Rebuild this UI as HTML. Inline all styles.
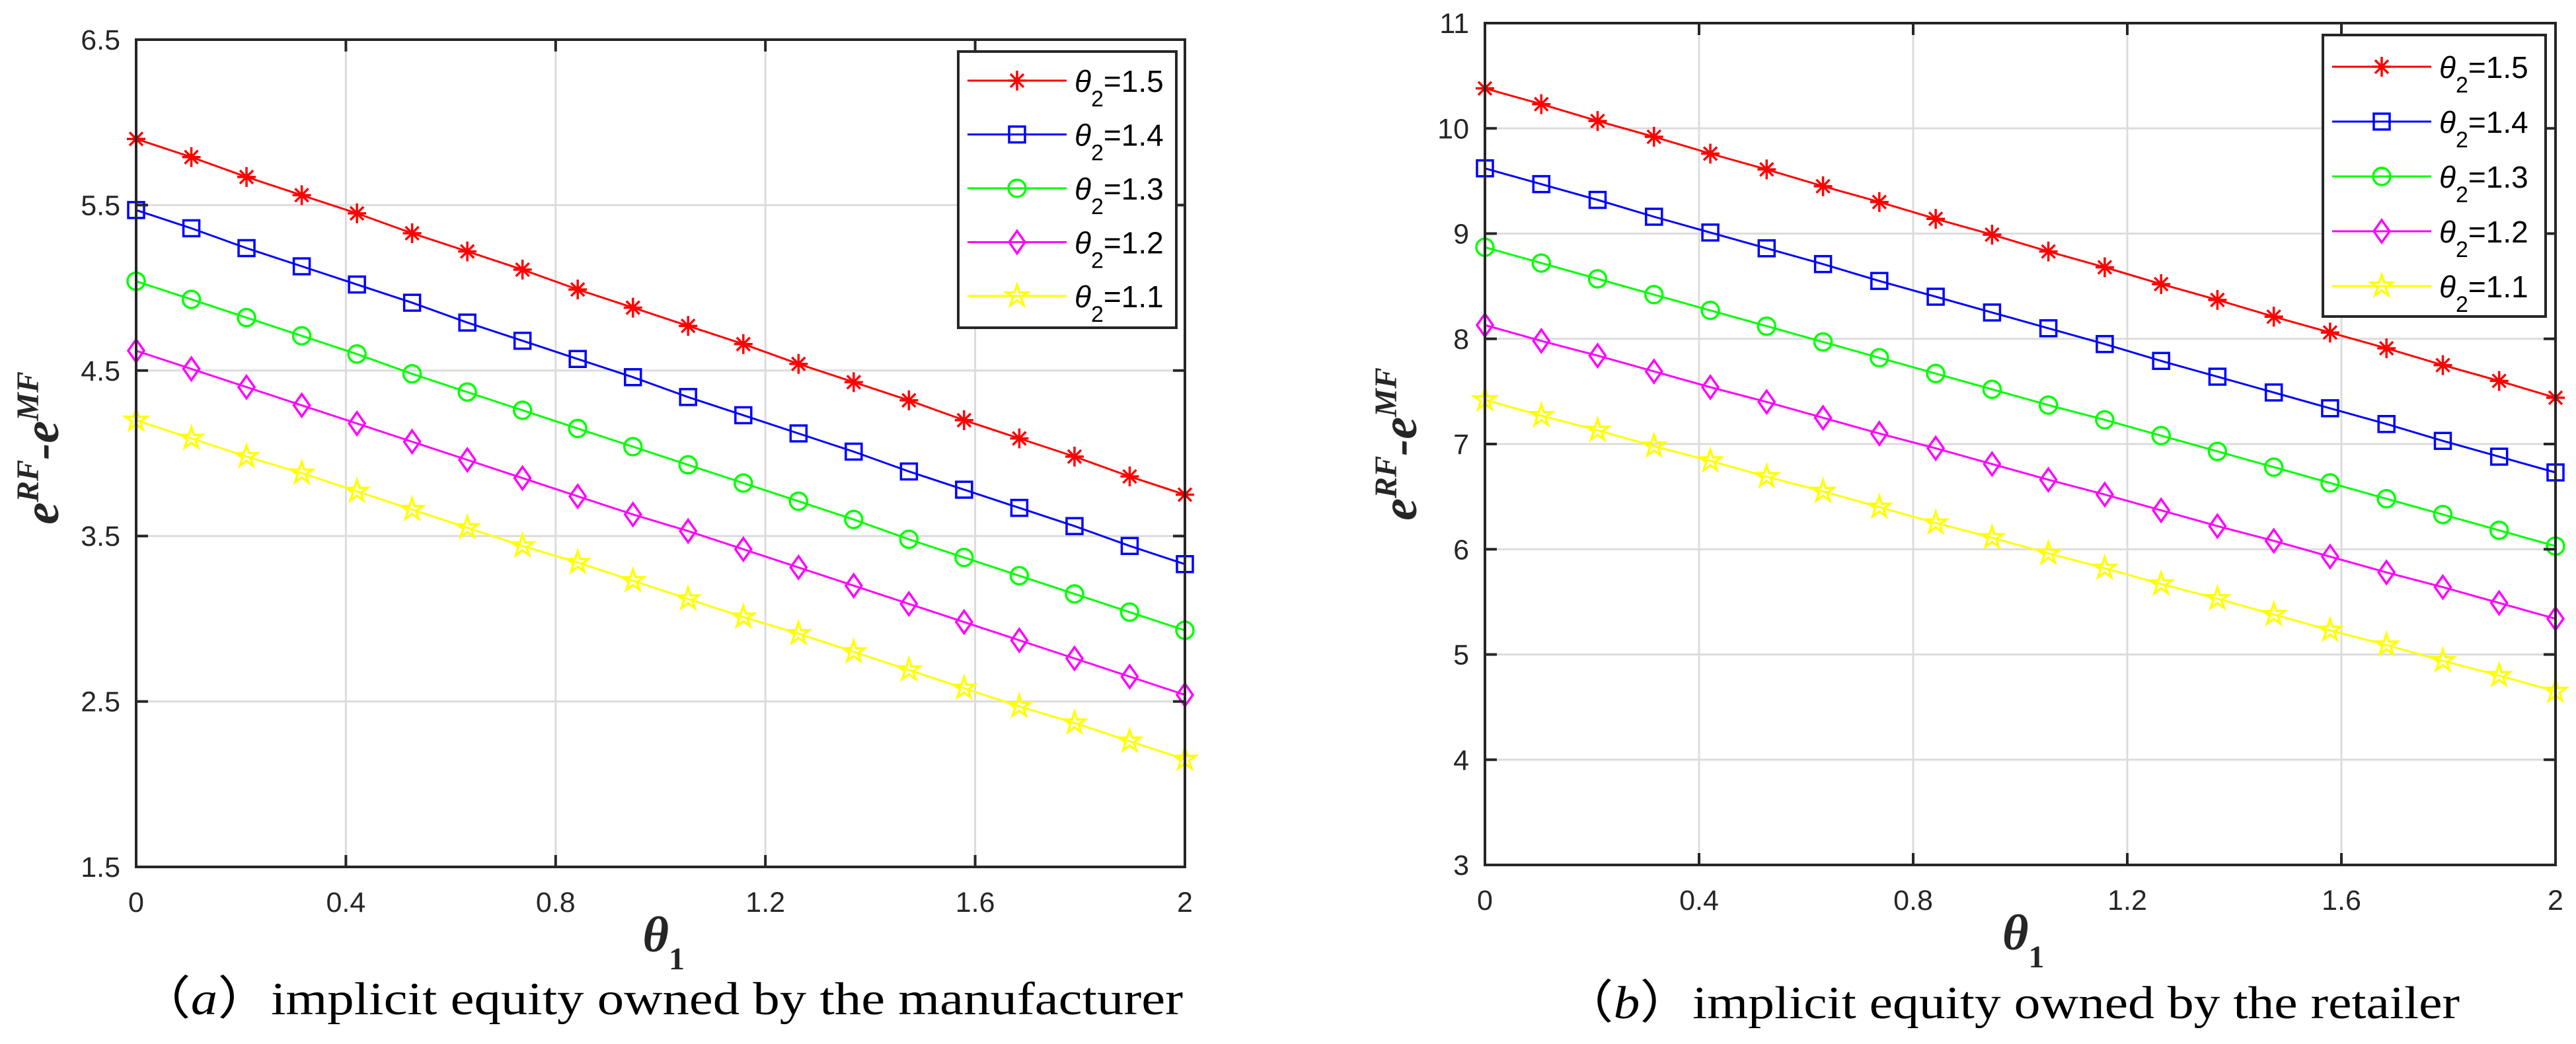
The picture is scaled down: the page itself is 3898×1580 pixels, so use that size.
<!DOCTYPE html>
<html><head><meta charset="utf-8">
<style>
html,body{margin:0;padding:0;background:#fff;}
svg{display:block;}
.tick{font-family:"Liberation Sans",sans-serif;font-size:43px;fill:#262626;}
.leg{font-family:"Liberation Sans",sans-serif;font-size:46px;fill:#000;}
.ser{font-family:"Liberation Serif",serif;}
</style></head>
<body>
<svg id="fig" width="3898" height="1580" viewBox="0 0 3898 1580" xmlns="http://www.w3.org/2000/svg">
<rect width="3898" height="1580" fill="#fff"/>
</svg>
<script>
// ---- data ----
const xValues = [0,0.1053,0.2105,0.3158,0.4211,0.5263,0.6316,0.7368,0.8421,0.9474,1.0526,1.1579,1.2632,1.3684,1.4737,1.5789,1.6842,1.7895,1.8947,2];
const seriesLabels = ["1.5","1.4","1.3","1.2","1.1"];
const seriesColors = ["#ff0000","#0000ff","#00ff00","#ff00ff","#ffff00"];
const seriesMarkers = ["star","square","circle","diamond","pentagram"];
const aRed = [5.90,5.79,5.67,5.56,5.45,5.33,5.22,5.11,4.99,4.88,4.77,4.66,4.54,4.43,4.32,4.20,4.09,3.98,3.86,3.75];
const aBlue = [5.47,5.36,5.24,5.13,5.02,4.91,4.79,4.68,4.57,4.46,4.34,4.23,4.12,4.01,3.89,3.78,3.67,3.56,3.44,3.33];
const aGreen = [5.04,4.93,4.82,4.71,4.60,4.48,4.37,4.26,4.15,4.04,3.93,3.82,3.71,3.60,3.48,3.37,3.26,3.15,3.04,2.93];
const aMagenta = [4.62,4.51,4.40,4.29,4.18,4.07,3.96,3.85,3.74,3.63,3.53,3.42,3.31,3.20,3.09,2.98,2.87,2.76,2.65,2.54];
const aYellow = [4.20,4.09,3.98,3.88,3.77,3.66,3.55,3.44,3.34,3.23,3.12,3.01,2.91,2.80,2.69,2.58,2.47,2.37,2.26,2.15];
const bRed = [10.38,10.23,10.07,9.92,9.76,9.61,9.45,9.30,9.14,8.99,8.83,8.68,8.52,8.37,8.21,8.06,7.91,7.75,7.60,7.44];
const bBlue = [9.62,9.47,9.32,9.16,9.01,8.86,8.71,8.55,8.40,8.25,8.10,7.95,7.79,7.64,7.49,7.34,7.19,7.03,6.88,6.73];
const bGreen = [8.87,8.72,8.57,8.42,8.27,8.12,7.97,7.82,7.67,7.52,7.37,7.23,7.08,6.93,6.78,6.63,6.48,6.33,6.18,6.03];
const bMagenta = [8.13,7.98,7.84,7.69,7.54,7.40,7.25,7.10,6.96,6.81,6.66,6.52,6.37,6.22,6.08,5.93,5.78,5.64,5.49,5.34];
const bYellow = [7.42,7.27,7.13,6.98,6.84,6.69,6.55,6.40,6.25,6.11,5.96,5.82,5.67,5.53,5.38,5.23,5.09,4.94,4.80,4.65];
const xTicks = [0,0.4,0.8,1.2,1.6,2];
const xTickLabels = ["0","0.4","0.8","1.2","1.6","2"];
const aYTicks = [1.5,2.5,3.5,4.5,5.5,6.5];
const aYTickLabels = ["1.5","2.5","3.5","4.5","5.5","6.5"];
const bYTicks = [3,4,5,6,7,8,9,10,11];
const bYTickLabels = ["3","4","5","6","7","8","9","10","11"];

const NS="http://www.w3.org/2000/svg";
const svg=document.getElementById('fig');
function mk(tag,attrs,parent){const e=document.createElementNS(NS,tag);for(const k in attrs)e.setAttribute(k,attrs[k]);(parent||svg).appendChild(e);return e;}

function marker(g,type,cx,cy,color){
  let e;
  if(type==="star"){
    e=mk('path',{d:`M${cx-14},${cy}H${cx+14}M${cx},${cy-15}V${cy+15}M${cx-10},${cy-10}L${cx+10},${cy+10}M${cx-10},${cy+10}L${cx+10},${cy-10}`,stroke:color,'stroke-width':3.5,fill:'none'},g);
  }else if(type==="square"){
    e=mk('rect',{x:cx-12,y:cy-12,width:24,height:24,stroke:color,'stroke-width':3.5,fill:'none'},g);
  }else if(type==="circle"){
    e=mk('circle',{cx:cx,cy:cy,r:13,stroke:color,'stroke-width':3.5,fill:'none'},g);
  }else if(type==="diamond"){
    e=mk('path',{d:`M${cx},${cy-17}L${cx+12},${cy}L${cx},${cy+17}L${cx-12},${cy}Z`,stroke:color,'stroke-width':3.5,fill:'none'},g);
  }else{
    let p=[];for(let i=0;i<10;i++){const r=i%2?6.5:17;const a=-Math.PI/2+i*Math.PI/5;p.push((cx+r*Math.cos(a)).toFixed(1)+','+(cy+r*Math.sin(a)).toFixed(1));}
    e=mk('polygon',{points:p.join(' '),stroke:color,'stroke-width':3.5,fill:'none'},g);
  }
  
  
}

function panel(id,L,R,T,B,ymin,ymax,yticks,ylabels,series,leg,cap,capX,capW,capY,yLabX,yLabC){
  const g=mk('g',{});
  
  
  const xs=v=>L+(v-0)/(2-0)*(R-L);
  const ys=v=>B-(v-ymin)/(ymax-ymin)*(B-T);
  const grid=mk('g',{stroke:'#dcdcdc','stroke-width':3},g);
  
  
  xTicks.forEach(v=>{if(v>0&&v<2)mk('line',{x1:xs(v),x2:xs(v),y1:T,y2:B},grid);});
  yticks.forEach(v=>{if(v>ymin&&v<ymax)mk('line',{x1:L,x2:R,y1:ys(v),y2:ys(v)},grid);});
  series.forEach((vals,si)=>{
    const sg=mk('g',{},g);
    
    
    const pts=vals.map((v,i)=>xs(xValues[i]).toFixed(1)+','+ys(v).toFixed(1)).join(' ');
    const pl=mk('polyline',{points:pts,fill:'none',stroke:seriesColors[si],'stroke-width':3},sg);
    
    
    vals.forEach((v,i)=>marker(sg,seriesMarkers[si],xs(xValues[i]),ys(v),seriesColors[si]));
  });
  const ax=mk('g',{stroke:'#262626','stroke-width':4,fill:'none'},g);
  
  
  mk('rect',{x:L,y:T,width:R-L,height:B-T},ax);
  xTicks.forEach(v=>{mk('line',{x1:xs(v),x2:xs(v),y1:B,y2:B-18},ax);mk('line',{x1:xs(v),x2:xs(v),y1:T,y2:T+18},ax);});
  yticks.forEach(v=>{mk('line',{x1:L,x2:L+18,y1:ys(v),y2:ys(v)},ax);mk('line',{x1:R,x2:R-18,y1:ys(v),y2:ys(v)},ax);});
  xTicks.forEach((v,i)=>{const t=mk('text',{x:xs(v),y:B+68,'text-anchor':'middle',class:'tick'},g);t.textContent=xTickLabels[i];
    });
  yticks.forEach((v,i)=>{const t=mk('text',{x:L-24,y:ys(v)+15,'text-anchor':'end',class:'tick'},g);t.textContent=ylabels[i];
    });
  const xt=mk('text',{x:xs(1)-27,y:B+128,class:'ser','font-size':76,'font-weight':'bold','font-style':'italic',fill:'#262626'},g);
  xt.innerHTML='θ<tspan dy="27" font-size="48" font-style="normal">1</tspan>';
  
  const yt=mk('text',{x:0,y:0,transform:`translate(${yLabX},${yLabC}) rotate(-90)`,'text-anchor':'middle',class:'ser','font-size':76,'font-weight':'bold','font-style':'italic',fill:'#262626'},g);
  yt.innerHTML='e<tspan dy="-30" font-size="48">RF</tspan><tspan dy="30">-e</tspan><tspan dy="-30" font-size="48">MF</tspan>';
  
  const lg=mk('g',{},g);
  
  const lr=mk('rect',{x:leg.x,y:leg.y,width:leg.w,height:leg.h,fill:'#fff',stroke:'#262626','stroke-width':4},lg);
  
  seriesLabels.forEach((lab,si)=>{
    const eg=mk('g',{},lg);
    
    const cy=leg.y0+si*leg.dy;
    mk('line',{x1:leg.x+14,x2:leg.x+164,y1:cy,y2:cy,stroke:seriesColors[si],'stroke-width':3},eg);
    marker(eg,seriesMarkers[si],leg.x+89,cy,seriesColors[si]);
    const t=mk('text',{x:leg.x+176,y:cy+17,class:'leg'},eg);
    t.innerHTML='<tspan font-style="italic">θ</tspan><tspan dy="22" font-size="34">2</tspan><tspan dy="-22">='+lab+'</tspan>';
  });
  const c=mk('text',{x:capX,y:capY,class:'ser','font-size':70,fill:'#000',textLength:capW,lengthAdjust:'spacingAndGlyphs'},svg);
  c.innerHTML=cap;
  
}

panel('a',206,1793,60,1312,1.5,6.5,aYTicks,aYTickLabels,[aRed,aBlue,aGreen,aMagenta,aYellow],
  {x:1450,y:78,w:330,h:418,y0:122,dy:81.5},
  '（<tspan font-style="italic">a</tspan>）implicit equity owned by the manufacturer',208,1582,1535,88,678);
panel('b',2247,3867,35,1309,3,11,bYTicks,bYTickLabels,[bRed,bBlue,bGreen,bMagenta,bYellow],
  {x:3515,y:53,w:337,h:426,y0:101,dy:83},
  '（<tspan font-style="italic">b</tspan>）implicit equity owned by the retailer',2362,1360,1541,2143,672);
</script>
</body></html>
